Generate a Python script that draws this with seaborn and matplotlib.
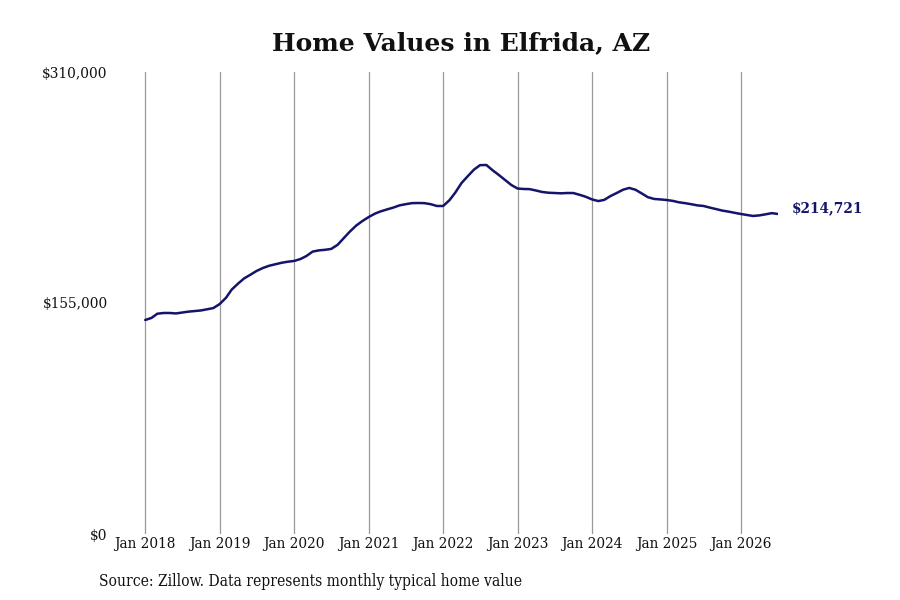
import pandas as pd
import matplotlib.pyplot as plt
import matplotlib.dates as mdates
import seaborn as sns

# Monthly typical home value, Jan 2018 - Jul 2026
start_month = '2018-01-01'
values_2018 = [143600, 145000, 147800, 148300, 148300, 148000,
               148600, 149200, 149600, 150000, 150800, 151600]
values_2019 = [154300, 158500, 164000, 168000, 171500, 174000,
               176500, 178500, 180000, 181000, 182000, 182700]
values_2020 = [183200, 184500, 186500, 189500, 190300, 190700,
               191300, 194000, 198600, 203000, 207000, 210000]
values_2021 = [212700, 215000, 216500, 217800, 219000, 220500,
               221300, 222000, 222100, 222000, 221300, 220100]
values_2022 = [220100, 224000, 229000, 235500, 240000, 244500,
               247500, 247600, 244000, 240900, 237500, 234200]
values_2023 = [231800, 231500, 231400, 230500, 229500, 229000,
               228800, 228600, 228800, 228800, 227600, 226300]
values_2024 = [224500, 223400, 224200, 226800, 228800, 231000,
               232200, 231000, 228500, 226000, 224800, 224500]
values_2025 = [224100, 223500, 222600, 222000, 221300, 220500,
               220100, 219000, 218000, 217000, 216300, 215500]
values_2026 = [214700, 214000, 213400, 213800, 214500, 215300, 214721]

tick_years = list(range(2018, 2027))
y_ticks = [0, 155000, 310000]
y_tick_labels = ['$0', '$155,000', '$310,000']

title = 'Home Values in Elfrida, AZ'
source = 'Source: Zillow. Data represents monthly typical home value'


def main():
    values = (values_2018 + values_2019 + values_2020 + values_2021 + values_2022
              + values_2023 + values_2024 + values_2025 + values_2026)
    df = pd.DataFrame({
        'date': pd.date_range(start_month, periods=len(values), freq='MS'),
        'value': values,
    })

    sns.set_theme(style='white')
    plt.rcParams['font.family'] = ['DejaVu Serif']
    plt.rcParams['font.stretch'] = 'condensed'

    navy = '#14146b'
    fig = plt.figure(figsize=(9, 6), dpi=100)
    ax = fig.add_axes([112 / 900, 66 / 600, (778 - 112) / 900, (534 - 72) / 600])

    sns.lineplot(data=df, x='date', y='value', color=navy, linewidth=1.8, ax=ax)

    ax.set_xlim(pd.Timestamp('2017-07-22'), pd.Timestamp('2026-07-01'))
    ax.set_ylim(0, 310000)
    ax.set_xticks([pd.Timestamp(f'{y}-01-01') for y in tick_years])
    ax.xaxis.set_major_formatter(mdates.DateFormatter('Jan %Y'))
    ax.set_yticks(y_ticks)
    ax.set_yticklabels(y_tick_labels)
    ax.tick_params(axis='both', length=0, labelsize=11, colors='#111111')
    ax.tick_params(axis='y', pad=3)
    ax.tick_params(axis='x', pad=2)
    ax.grid(axis='x', color='#999999', linewidth=0.9)
    ax.grid(axis='y', visible=False)
    for s in ax.spines.values():
        s.set_visible(False)
    ax.set_xlabel('')
    ax.set_ylabel('')

    last = df.iloc[-1]
    ax.annotate(f"${last['value']:,}", xy=(last['date'], last['value']),
                xytext=(10, 4), textcoords='offset points', va='center', ha='left',
                fontsize=11, fontweight='bold', color=navy, annotation_clip=False)

    fig.text(461 / 900, 1 - 43 / 600, title, ha='center', va='center',
             fontsize=18, fontweight='bold', color='#111111', fontstretch='normal')
    fig.text(99 / 900, 1 - 581 / 600, source, ha='left', va='center',
             fontsize=11.2, color='#111111')

    fig.savefig('out.png', dpi=100)


if __name__ == "__main__":
    main()
